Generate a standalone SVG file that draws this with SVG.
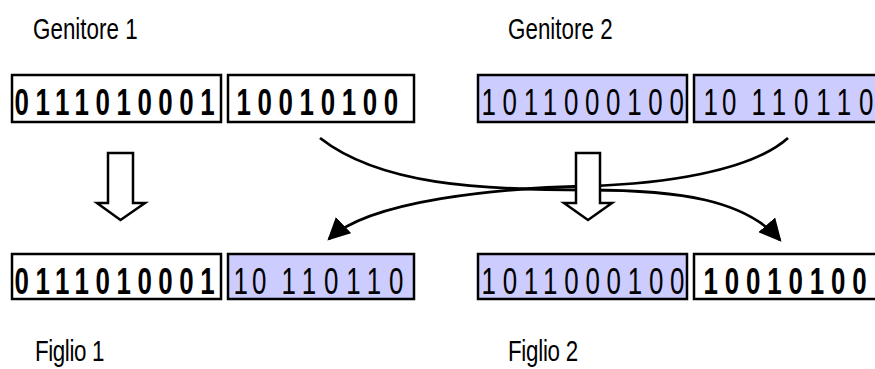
<svg xmlns="http://www.w3.org/2000/svg" width="875" height="369" viewBox="0 0 875 369">
  <style>
    .lbl { font-family: "Liberation Sans", Arial, sans-serif; font-size: 29px; fill: #000; }
    .bits { font-family: "Liberation Sans", Arial, sans-serif; font-size: 37px; fill: #000; }
    .b { font-weight: bold; }
    .box { stroke: #000; stroke-width: 2.5; }
    .w { fill: #fff; }
    .v { fill: #ccccff; }
    .conn { fill: none; stroke: #000; stroke-width: 2.8; }
    .down { fill: #fff; stroke: #000; stroke-width: 2.5; stroke-linejoin: miter; }
  </style>
  <defs>
    <marker id="head" viewBox="0 0 10 10" refX="9" refY="5" markerWidth="8" markerHeight="8" markerUnits="strokeWidth" orient="auto">
      <path d="M0,0 L10,5 L0,10 Z" fill="#000"/>
    </marker>
  </defs>
  <rect width="875" height="369" fill="#fff"/>

  <!-- labels -->
  <g id="label-genitore1"><text class="lbl" transform="translate(33,39) scale(0.77,1)" textLength="136">Genitore 1</text></g>
  <g id="label-genitore2"><text class="lbl" transform="translate(508,39) scale(0.77,1)" textLength="136">Genitore 2</text></g>
  <g id="label-figlio1"><text class="lbl" transform="translate(35,361) scale(0.77,1)" textLength="90">Figlio 1</text></g>
  <g id="label-figlio2"><text class="lbl" transform="translate(508,361) scale(0.77,1)" textLength="91">Figlio 2</text></g>

  <!-- crossover connectors (drawn under the hollow arrows) -->
  <g id="connectors">
    <path class="conn" d="M320,138 C380,185 480,190 588,190 C680,190 745,200 780,240" marker-end="url(#head)"/>
    <path class="conn" d="M788,138 C750,172 660,184 588,186 C500,188 370,200 329,239" marker-end="url(#head)"/>
  </g>

  <!-- parent 1 -->
  <g id="p1-head">
    <rect class="box w" x="12" y="75" width="209" height="47"/>
    <text class="bits b" transform="translate(14.5,115) scale(0.7,1)" textLength="286" lengthAdjust="spacing">0111010001</text>
  </g>
  <g id="p1-tail">
    <rect class="box w" x="228" y="75" width="186" height="47"/>
    <text class="bits b" transform="translate(236.5,115) scale(0.7,1)" textLength="231" lengthAdjust="spacing">10010100</text>
  </g>

  <!-- parent 2 -->
  <g id="p2-head">
    <rect class="box v" x="478" y="75" width="209" height="47"/>
    <text class="bits" transform="translate(481.5,115) scale(0.7,1)" textLength="289" lengthAdjust="spacing">1011000100</text>
  </g>
  <g id="p2-tail">
    <rect class="box v" x="694" y="75" width="190" height="47"/>
    <text class="bits" transform="translate(703.5,115) scale(0.7,1)"><tspan x="0" textLength="47" lengthAdjust="spacing">10</tspan><tspan x="68.6" textLength="174" lengthAdjust="spacing">110110</tspan></text>
  </g>

  <!-- hollow down arrows -->
  <g id="arrow-left">
    <path class="down" d="M108,153 H133 V203 H145 L120.5,220 L97,203 H108 Z"/>
  </g>
  <g id="arrow-mid">
    <path class="down" d="M576,153 H600 V203 H612 L588,220 L564,203 H576 Z"/>
  </g>

  <!-- child 1 -->
  <g id="c1-head">
    <rect class="box w" x="12" y="254" width="209" height="45"/>
    <text class="bits b" transform="translate(14.5,294) scale(0.7,1)" textLength="286" lengthAdjust="spacing">0111010001</text>
  </g>
  <g id="c1-tail">
    <rect class="box v" x="228" y="254" width="186" height="45"/>
    <text class="bits" transform="translate(233.5,294) scale(0.7,1)"><tspan x="0" textLength="47" lengthAdjust="spacing">10</tspan><tspan x="68.6" textLength="174" lengthAdjust="spacing">110110</tspan></text>
  </g>

  <!-- child 2 -->
  <g id="c2-head">
    <rect class="box v" x="478" y="254" width="209" height="45"/>
    <text class="bits" transform="translate(481.5,294) scale(0.7,1)" textLength="290" lengthAdjust="spacing">1011000100</text>
  </g>
  <g id="c2-tail">
    <rect class="box w" x="694" y="254" width="190" height="45"/>
    <text class="bits b" transform="translate(703.5,294) scale(0.7,1)" textLength="233" lengthAdjust="spacing">10010100</text>
  </g>
</svg>
